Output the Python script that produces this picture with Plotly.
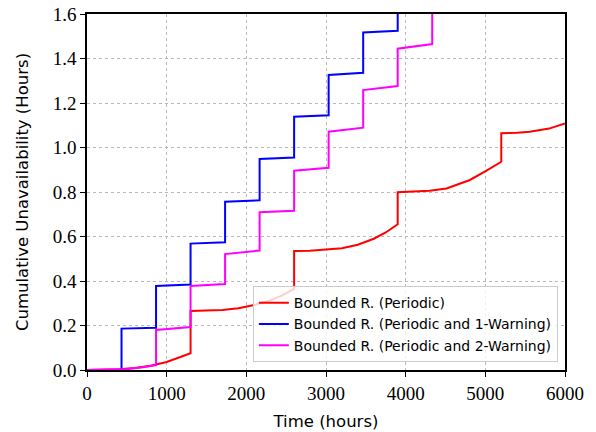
import plotly.graph_objects as go

# ---- data ----
red_x = [0, 200, 400, 600, 800, 1000, 1150, 1300,
         1300, 1500, 1700, 1900, 2100, 2300, 2450, 2600,
         2600, 2800, 3000, 3200, 3400, 3600, 3750, 3900,
         3900, 4100, 4300, 4513, 4700, 4806, 5015, 5200,
         5200, 5400, 5558, 5800, 6000]
red_y = [0, 0.0005, 0.003, 0.009, 0.019, 0.036, 0.054, 0.075,
         0.265, 0.266, 0.270, 0.278, 0.292, 0.313, 0.335, 0.365,
         0.535, 0.536, 0.540, 0.547, 0.563, 0.590, 0.618, 0.655,
         0.799, 0.801, 0.806, 0.816, 0.838, 0.854, 0.896, 0.936,
         1.064, 1.066, 1.071, 1.085, 1.108]

blue_x = [0, 433.3, 433.3, 866.7, 866.7, 1300, 1300, 1733.3, 1733.3, 2166.7, 2166.7,
          2600, 2600, 3033.3, 3033.3, 3466.7, 3466.7, 3900, 3900]
blue_y = [0, 0, 0.186, 0.190, 0.378, 0.384, 0.568, 0.574, 0.756, 0.763, 0.948,
          0.955, 1.138, 1.145, 1.326, 1.336, 1.517, 1.525, 1.75]

mag_x = [0, 300, 500, 700, 866.7, 866.7, 1300, 1300, 1733.3, 1733.3, 2166.7, 2166.7,
         2600, 2600, 3033.3, 3033.3, 3466.7, 3466.7, 3900, 3900, 4333.3, 4333.3]
mag_y = [0, 0.001, 0.004, 0.012, 0.022, 0.180, 0.193, 0.378, 0.386, 0.521, 0.537, 0.709,
         0.716, 0.896, 0.909, 1.071, 1.089, 1.258, 1.276, 1.444, 1.465, 1.75]

names = ["Bounded R. (Periodic)",
         "Bounded R. (Periodic and 1-Warning)",
         "Bounded R. (Periodic and 2-Warning)"]
colors = ["#ff0000", "#0000ff", "#ff00ff"]

x_ticks = [0, 1000, 2000, 3000, 4000, 5000, 6000]
y_ticks = [0.0, 0.2, 0.4, 0.6, 0.8, 1.0, 1.2, 1.4, 1.6]

fig = go.Figure()
for xs, ys, nm, c in zip([red_x, blue_x, mag_x], [red_y, blue_y, mag_y], names, colors):
    fig.add_trace(go.Scatter(x=xs, y=ys, mode="lines", name=nm,
                             line=dict(color=c, width=2)))

tickfont = dict(family="Liberation Serif", size=19, color="black")
titlefont = dict(family="DejaVu Sans", size=16.5, color="black")

fig.update_layout(
    width=596, height=432,
    margin=dict(l=87, r=31, t=14, b=62),
    paper_bgcolor="white", plot_bgcolor="white",
    showlegend=True,
    legend=dict(x=0.985, y=0.022, xanchor="right", yanchor="bottom",
                bgcolor="rgba(255,255,255,0.8)", bordercolor="#cccccc", borderwidth=1,
                font=dict(family="DejaVu Sans", size=14, color="black"),
                tracegroupgap=0, itemwidth=30),
    xaxis=dict(range=[0, 6000], tickvals=x_ticks, ticktext=[str(v) for v in x_ticks],
               tickfont=tickfont, title=dict(text="Time (hours)", font=titlefont, standoff=13),
               showline=True, linecolor="black", linewidth=1.5, mirror=True,
               ticks="outside", ticklen=5, tickcolor="black", automargin=False,
               ticklabeloverflow="allow",
               showgrid=True, gridcolor="#b8b8b8", griddash="dot", gridwidth=1,
               zeroline=False),
    yaxis=dict(range=[0, 1.6], tickvals=y_ticks, ticktext=[f"{v:.1f}" for v in y_ticks],
               tickfont=tickfont,
               title=dict(text="Cumulative Unavailability (Hours)", font=titlefont, standoff=20),
               showline=True, linecolor="black", linewidth=1.5, mirror=True,
               ticks="outside", ticklen=5, tickcolor="black", automargin=False,
               ticklabeloverflow="allow",
               showgrid=True, gridcolor="#b8b8b8", griddash="dot", gridwidth=1,
               zeroline=False),
)

fig.write_html("out.html", config={"displayModeBar": False},
               post_script="document.body.style.margin='0';")
